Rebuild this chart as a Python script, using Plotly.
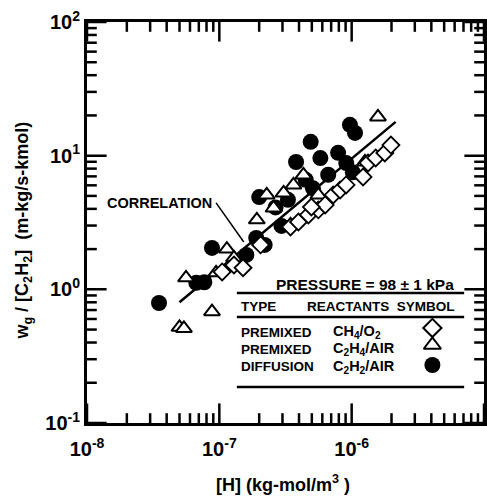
import plotly.graph_objects as go

# ---- data ----
diff_h = [3.5e-8, 6.7e-8, 7.7e-8, 8.8e-8, 1.6e-7, 1.9e-7, 2.2e-7, 2.0e-7, 2.95e-7, 3.8e-7,
          4.9e-7, 5.8e-7, 3.3e-7, 4.5e-7, 5.1e-7, 7.9e-7, 9.1e-7, 1.02e-6, 9.7e-7, 1.06e-6,
          2.66e-7, 6.65e-7]
diff_w = [0.79, 1.12, 1.13, 2.04, 1.81, 2.42, 2.15, 4.9, 2.98, 8.97,
          12.7, 9.6, 4.67, 6.6, 5.7, 10.5, 8.8, 7.5, 17.0, 14.8,
          4.1, 7.2]

c2h4_h = [5.0e-8, 5.4e-8, 8.8e-8, 5.6e-8, 9.45e-8, 1.14e-7, 1.41e-7, 1.92e-7, 2.28e-7,
          3.06e-7, 3.63e-7, 4.32e-7, 3.45e-7, 5.6e-7, 1.26e-6, 1.58e-6, 1.29e-7, 2.57e-7]
c2h4_w = [0.52, 0.51, 0.68, 1.22, 1.33, 2.0, 1.52, 3.31, 5.08,
          5.26, 6.04, 7.17, 3.03, 5.08, 8.97, 19.5, 1.72, 4.06]

ch4_h = [1.05e-7, 1.29e-7, 1.51e-7, 2.05e-7, 3.45e-7, 3.96e-7, 4.71e-7, 5.6e-7, 6.31e-7,
         7.25e-7, 8.18e-7, 4.96e-7, 9.08e-7, 1.22e-6, 1.33e-6, 1.52e-6, 1.78e-6, 1.98e-6]
ch4_w = [1.35, 1.52, 1.45, 2.15, 2.93, 3.19, 3.6, 3.93, 4.28,
         5.08, 5.54, 4.13, 6.04, 6.93, 8.82, 9.61, 10.47, 12.0]

corr_h = [5.0e-8, 2.15e-6]
corr_w = [0.80, 17.9]

leader_h = [9.45e-8, 1.53e-7]
leader_w = [4.43, 2.26]

x_tickvals = [1e-8, 1e-7, 1e-6, 1e-5]
x_ticktext = ["<b>10<sup>-8</sup></b>", "<b>10<sup>-7</sup></b>", "<b>10<sup>-6</sup></b>",
              "<b>10<sup>-5</sup></b>"]
y_tickvals = [0.1, 1, 10, 100]
y_ticktext = ["<b>10<sup>-1</sup></b>", "<b>10<sup>0</sup></b>", "<b>10<sup>1</sup></b>",
              "<b>10<sup>2</sup></b>"]

legend_types = ["PREMIXED", "PREMIXED", "DIFFUSION"]
legend_reactants = ["CH<sub>4</sub>/O<sub>2</sub>", "C<sub>2</sub>H<sub>4</sub>/AIR",
                    "C<sub>2</sub>H<sub>2</sub>/AIR"]

FONT = "Liberation Sans, Arial, sans-serif"
XR = [-8, -5]
YR = [-1, 2]

minor_x = [k * 10.0 ** e for e in range(-8, -5) for k in range(2, 10)]
minor_y = [k * 10.0 ** e for e in range(-1, 2) for k in range(2, 10)]

def frac_to_log(f, r):
    # position inside the plot area (fraction) -> value on a log axis
    return 10 ** (r[0] + f * (r[1] - r[0]))

fig = go.Figure()

# ---- inside tick marks on all four sides, drawn as line markers clipped to the plot area
x_lo, x_hi = 10.0 ** XR[0], 10.0 ** XR[1]
y_lo, y_hi = 10.0 ** YR[0], 10.0 ** YR[1]
def tick_trace(xs, ys, symbol, size):
    fig.add_trace(go.Scatter(x=xs, y=ys, mode="markers", cliponaxis=True, hoverinfo="skip",
                             marker=dict(symbol=symbol, size=size, color="black",
                                         line=dict(width=2.5, color="black"))))
for vals, size in ((x_tickvals, 28), (minor_x, 14)):
    tick_trace(vals + vals, [y_lo] * len(vals) + [y_hi] * len(vals), "line-ns", size)
for vals, size in ((y_tickvals, 28), (minor_y, 14)):
    tick_trace([x_lo] * len(vals) + [x_hi] * len(vals), vals + vals, "line-ew", size)

# correlation line & leader
fig.add_trace(go.Scatter(x=corr_h, y=corr_w, mode="lines",
                         line=dict(color="black", width=2.5), hoverinfo="skip"))
fig.add_trace(go.Scatter(x=leader_h, y=leader_w, mode="lines",
                         line=dict(color="black", width=1.5), hoverinfo="skip"))

fig.add_trace(go.Scatter(x=diff_h, y=diff_w, mode="markers", name="DIFFUSION C2H2/AIR",
                         marker=dict(symbol="circle", size=16, color="black",
                                     line=dict(color="black", width=0))))
fig.add_trace(go.Scatter(x=c2h4_h, y=c2h4_w, mode="markers", name="PREMIXED C2H4/AIR",
                         marker=dict(symbol="triangle-up", size=14, color="white",
                                     line=dict(color="black", width=2))))
fig.add_trace(go.Scatter(x=ch4_h, y=ch4_w, mode="markers", name="PREMIXED CH4/O2",
                         marker=dict(symbol="diamond", size=13, color="white",
                                     line=dict(color="black", width=1.8))))

sym_x = 0.87
sym_y = [0.237, 0.1945, 0.1446]
sym_style = [
    dict(symbol="diamond", size=14, color="white", line=dict(color="black", width=2)),
    dict(symbol="triangle-up", size=15, color="white", line=dict(color="black", width=2)),
    dict(symbol="circle", size=16, color="black"),
]
for fy, st in zip(sym_y, sym_style):
    fig.add_trace(go.Scatter(x=[frac_to_log(sym_x, XR)], y=[frac_to_log(fy, YR)],
                             mode="markers", marker=st, hoverinfo="skip"))

fig.update_layout(
    width=487, height=498,
    margin=dict(l=87, r=0, t=22, b=75),
    paper_bgcolor="white", plot_bgcolor="white",
    showlegend=False,
    xaxis=dict(type="log", range=XR, tickvals=x_tickvals, ticktext=x_ticktext,
               showgrid=False, zeroline=False, showline=True, linecolor="black",
               linewidth=3, mirror=True, ticks="", ticklabelstandoff=6,
               tickfont=dict(family=FONT, size=20, color="black")),
    yaxis=dict(type="log", range=YR, tickvals=y_tickvals, ticktext=y_ticktext,
               showgrid=False, zeroline=False, showline=True, linecolor="black",
               linewidth=3, mirror=True, ticks="",
               tickfont=dict(family=FONT, size=20, color="black")),
)

ann = []
def txt(x, y, s, size, xanchor="center", angle=0):
    ann.append(dict(x=x, y=y, xref="paper", yref="paper", text=s, showarrow=False,
                    xanchor=xanchor, yanchor="middle", textangle=angle,
                    font=dict(family=FONT, size=size, color="black", weight="bold")))

txt(0.494, -0.152, "[H] (kg-mol/m<sup>3</sup> )", 18)
txt(-0.16, 0.481, "w<sub>g</sub> / [C<sub>2</sub>H<sub>2</sub>]  (m-kg/s-kmol)", 18, angle=-90)
txt(0.32, 0.5486, "CORRELATION", 14.5, xanchor="right")
txt(0.699, 0.3466, "PRESSURE = 98 ± 1 kPa", 15.5)
txt(0.3825, 0.2893, "TYPE", 13.5, xanchor="left")
txt(0.9325, 0.2893, "REACTANTS  SYMBOL", 13.5, xanchor="right")
row_y = [0.2269, 0.1845, 0.1397]
for i in range(3):
    txt(0.3825, row_y[i], legend_types[i], 13.5, xanchor="left")
    txt(0.615, row_y[i], legend_reactants[i], 14.5, xanchor="left")
fig.update_layout(annotations=ann)

shapes = []
# legend table rules
for yy in [0.3242, 0.2643, 0.0898]:
    shapes.append(dict(type="line", xref="paper", yref="paper", x0=0.3775, x1=0.95,
                       y0=yy, y1=yy, line=dict(color="black", width=2.5)))
fig.update_layout(shapes=shapes)

fig.write_html("out.html")
